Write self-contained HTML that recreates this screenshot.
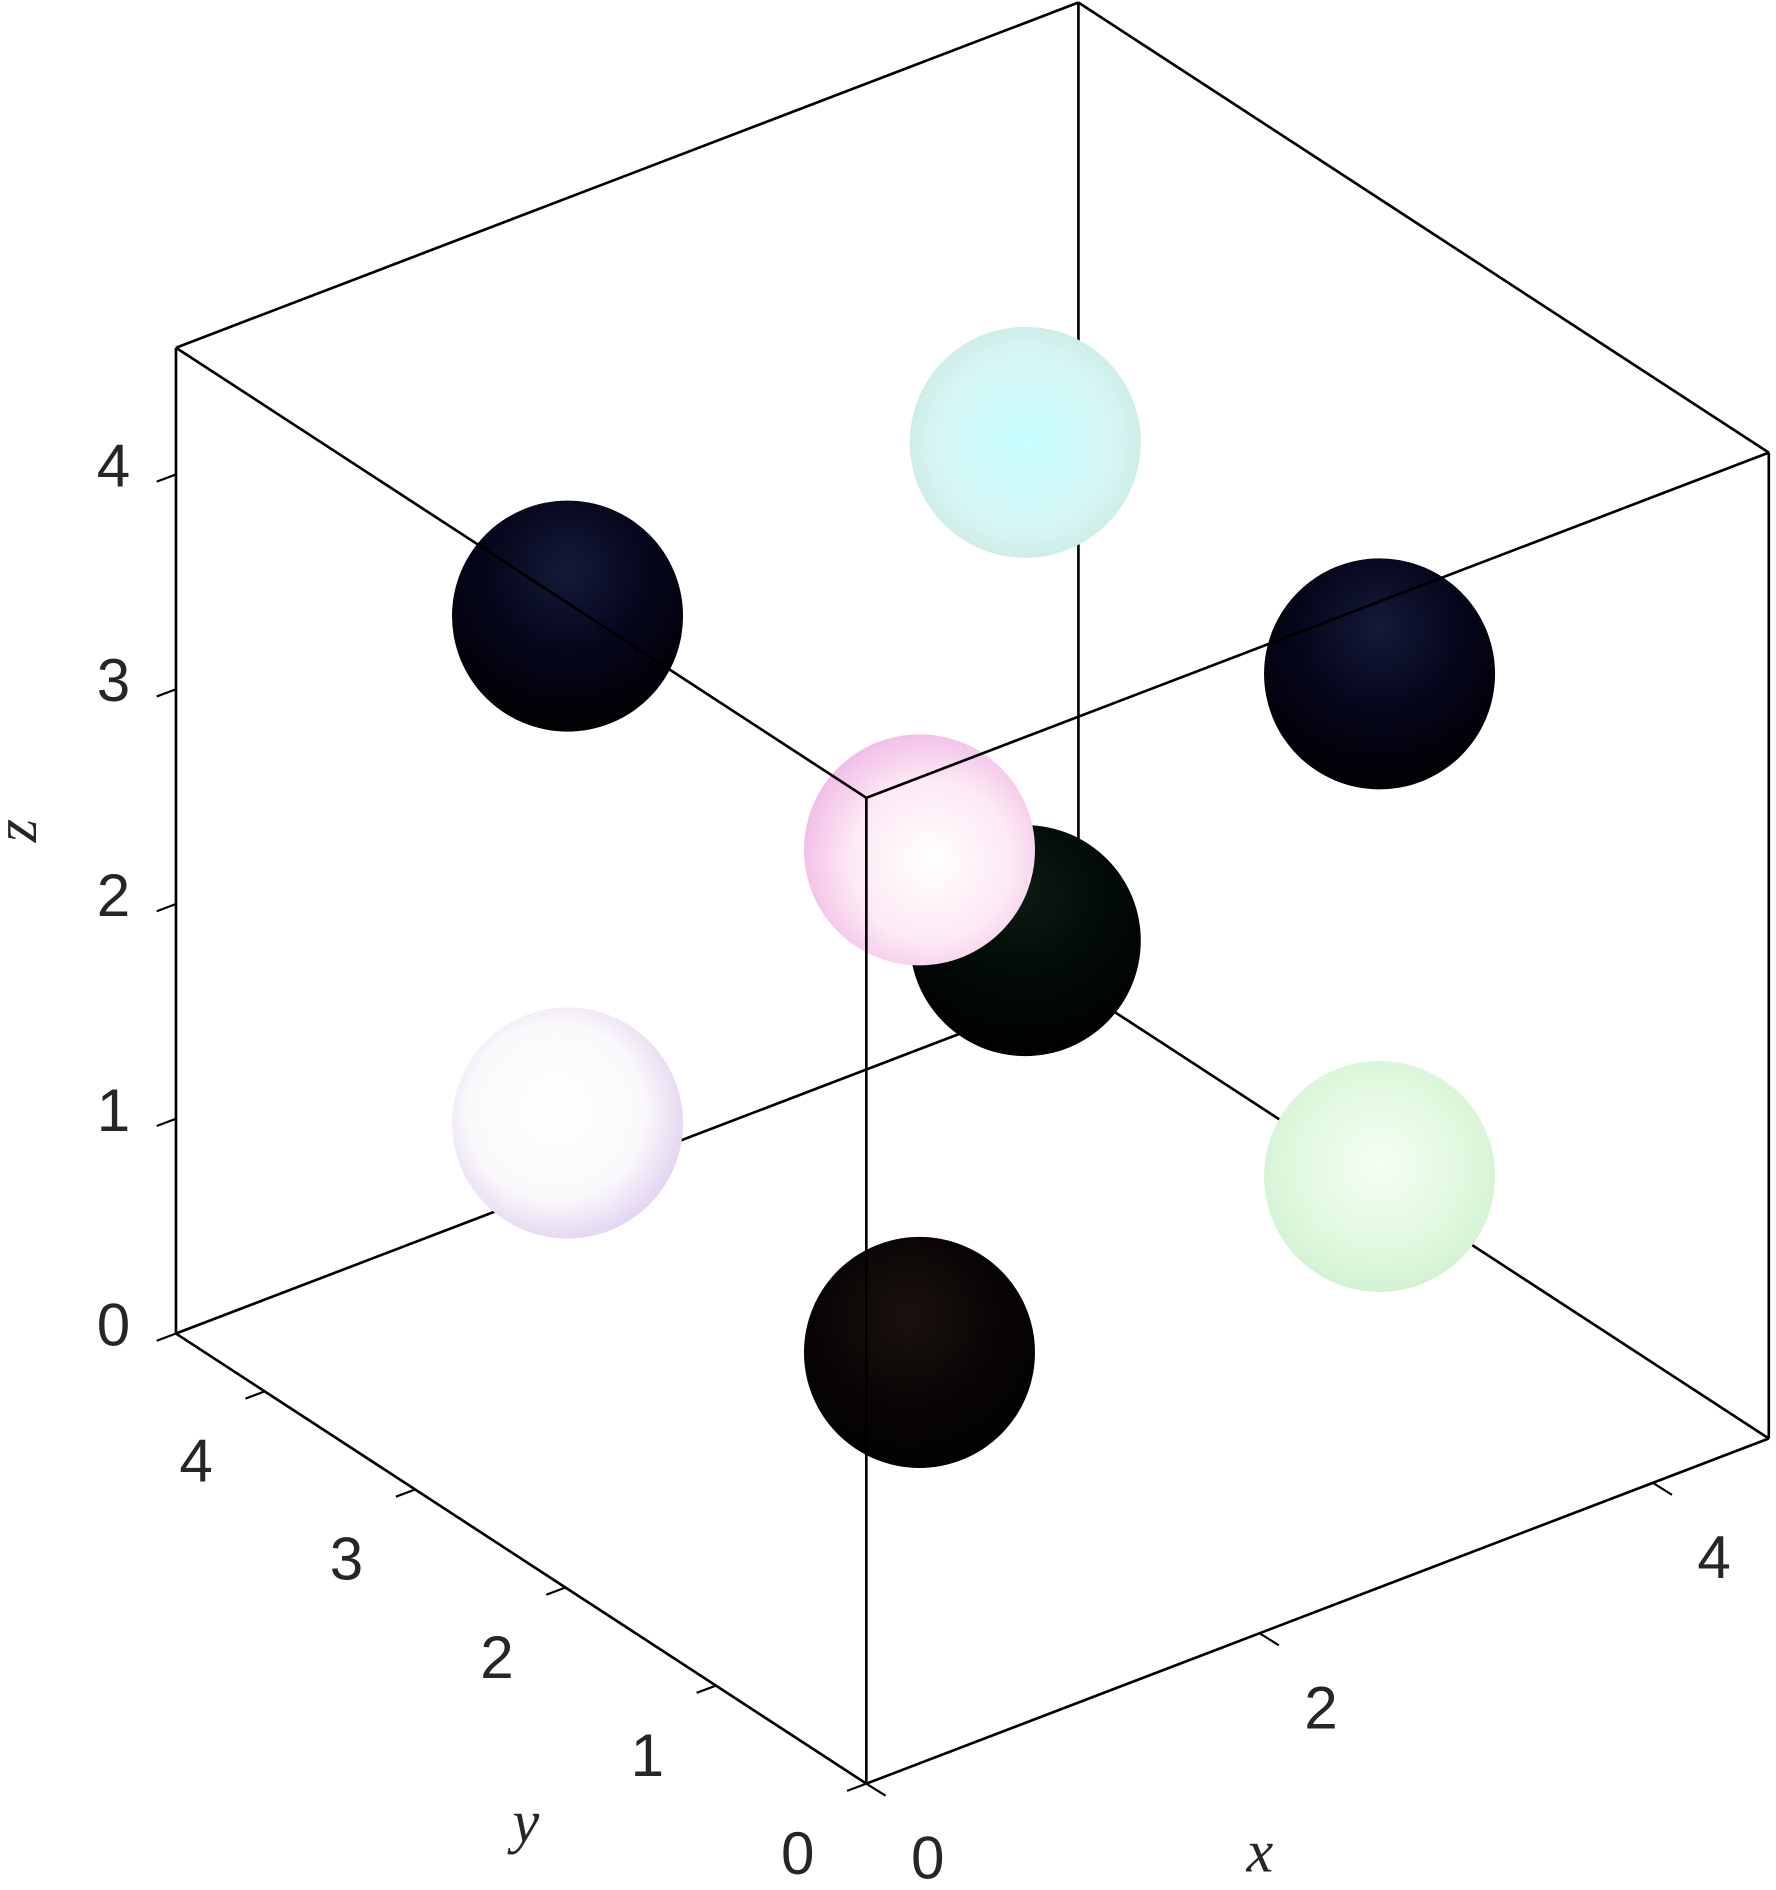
<!DOCTYPE html>
<html><head><meta charset="utf-8"><style>
html,body{margin:0;padding:0;background:#fff;}
svg{display:block;}
</style></head><body>
<svg id="chart" width="1776" height="1890" viewBox="0 0 1476 1570" xmlns="http://www.w3.org/2000/svg">
<defs>
<radialGradient id="gDark1" cx="0.5" cy="0.3" r="0.75"><stop offset="0" stop-color="#141a38"/><stop offset="0.5" stop-color="#05051a"/><stop offset="1" stop-color="#000"/></radialGradient>
<radialGradient id="gDark2" cx="0.45" cy="0.35" r="0.75"><stop offset="0" stop-color="#1a1210"/><stop offset="0.5" stop-color="#0a0505"/><stop offset="1" stop-color="#000"/></radialGradient>
<radialGradient id="gDark3" cx="0.5" cy="0.3" r="0.75"><stop offset="0" stop-color="#0b1a12"/><stop offset="0.5" stop-color="#020a06"/><stop offset="1" stop-color="#000"/></radialGradient>
<radialGradient id="gLight1" cx="0.55" cy="0.55" r="0.7"><stop offset="0" stop-color="#ffffff"/><stop offset="0.5" stop-color="#fde9f4"/><stop offset="0.85" stop-color="#f0b8e6"/><stop offset="1" stop-color="#c9a0c8"/></radialGradient>
<radialGradient id="gLight2" cx="0.5" cy="0.5" r="0.7"><stop offset="0" stop-color="#c8ffff"/><stop offset="0.55" stop-color="#d6f5f5"/><stop offset="0.85" stop-color="#c8e8dd"/><stop offset="1" stop-color="#b0d8c0"/></radialGradient>
<radialGradient id="gLight3" cx="0.45" cy="0.45" r="0.7"><stop offset="0" stop-color="#ffffff"/><stop offset="0.55" stop-color="#faf8fb"/><stop offset="0.85" stop-color="#e0d0f0"/><stop offset="1" stop-color="#c0b0e0"/></radialGradient>
<radialGradient id="gLight4" cx="0.5" cy="0.45" r="0.7"><stop offset="0" stop-color="#f6fff4"/><stop offset="0.55" stop-color="#e0f8de"/><stop offset="0.85" stop-color="#d0f0d0"/><stop offset="1" stop-color="#c0d8c8"/></radialGradient>
</defs>
<g id="back"></g><g id="spheres"></g><g id="front"></g><g id="axes"></g>
</svg>
<script>
const boxMax = 4.59;
const sphereX = [1.15, 1.15, 3.44, 3.44, 1.15, 1.15, 3.49, 3.49];
const sphereY = [1.15, 1.15, 3.44, 3.44, 3.49, 3.49, 1.15, 1.15];
const sphereZ = [1.08, 3.42, 1.15, 3.47, 3.44, 1.08, 3.42, 1.08];
const sphereFill = ['gDark2','gLight1','gDark3','gLight2','gDark1','gLight3','gDark1','gLight4'];
const sphereR = 0.6;
const xTicks = [0, 2, 4];
const yTicks = [0, 1, 2, 3, 4];
const zTicks = [0, 1, 2, 3, 4];
const NS = 'http://www.w3.org/2000/svg';
function P(x, y, z) { return [720 + 163.4 * x - 125 * y, 1482 - 62.5 * x - 81.5 * y - 178.5 * z]; }
function mk(tag, attrs, parent) { const e = document.createElementNS(NS, tag); for (const k in attrs) e.setAttribute(k, attrs[k]); parent.appendChild(e); return e; }
function line(a, b, parent, w) { return mk('line', {x1:a[0], y1:a[1], x2:b[0], y2:b[1], stroke:'#000', 'stroke-width':w||2.2}, parent); }
const L = boxMax;
const back = document.getElementById('back'), front = document.getElementById('front'), sph = document.getElementById('spheres'), axes = document.getElementById('axes');
const backEdges = [[[L,L,0],[0,L,0]],[[L,L,0],[L,0,0]],[[L,L,0],[L,L,L]]];
backEdges.forEach(e => { const l = line(P(...e[0]), P(...e[1]), back);

 });
const frontEdges = [[[0,0,0],[L,0,0]],[[0,0,0],[0,L,0]],[[0,0,0],[0,0,L]],[[L,0,0],[L,0,L]],[[0,L,0],[0,L,L]],
[[0,0,L],[L,0,L]],[[0,0,L],[0,L,L]],[[L,0,L],[L,L,L]],[[0,L,L],[L,L,L]]];
frontEdges.forEach(e => { const l = line(P(...e[0]), P(...e[1]), front);

 });
const order = sphereX.map((_, i) => i).sort((a, b) => (sphereX[b] + sphereY[b] - sphereZ[b]*0.1) - (sphereX[a] + sphereY[a] - sphereZ[a]*0.1));
order.forEach(i => { const c = P(sphereX[i], sphereY[i], sphereZ[i]);
const s = mk('circle', {cx:c[0], cy:c[1], r:sphereR * 160, fill:'url(#' + sphereFill[i] + ')'}, sph);

 });
const font = '"Liberation Sans", sans-serif';
zTicks.forEach(t => { const p = P(0, L, t); line([p[0]-16, p[1]+6], p, axes, 1.8);
const tx = mk('text', {x:p[0]-38, y:p[1]+10, 'font-size':50, 'font-family':font, fill:'#262626', 'text-anchor':'end'}, axes); tx.textContent = t;

 });
yTicks.forEach(t => { const p = P(0, t, 0); line(p, [p[0]-16, p[1]+6], axes, 1.8);
const tx = mk('text', {x:p[0]-57, y:p[1]+75, 'font-size':50, 'font-family':font, fill:'#262626', 'text-anchor':'middle'}, axes); tx.textContent = t;

 });
xTicks.forEach(t => { const p = P(t, 0, 0); line(p, [p[0]+16, p[1]+10], axes, 1.8);
const tx = mk('text', {x:p[0]+51, y:p[1]+79, 'font-size':50, 'font-family':font, fill:'#262626', 'text-anchor':'middle'}, axes); tx.textContent = t;

 });
const lab = (t, x, y, name, rot) => { const e = mk('text', {x:x, y:y, 'font-size':50, 'font-family':'"Liberation Serif", serif', 'font-style':'italic', fill:'#262626', 'text-anchor':'middle'}, axes);
if (rot) e.setAttribute('transform', 'rotate(-90 ' + x + ' ' + y + ')'); e.textContent = t;

 };
lab('x', 1047, 1555, 'x-axis-title');
lab('y', 437, 1530, 'y-axis-title');
lab('z', 30, 690, 'z-axis-title', true);
</script>
</body></html>
